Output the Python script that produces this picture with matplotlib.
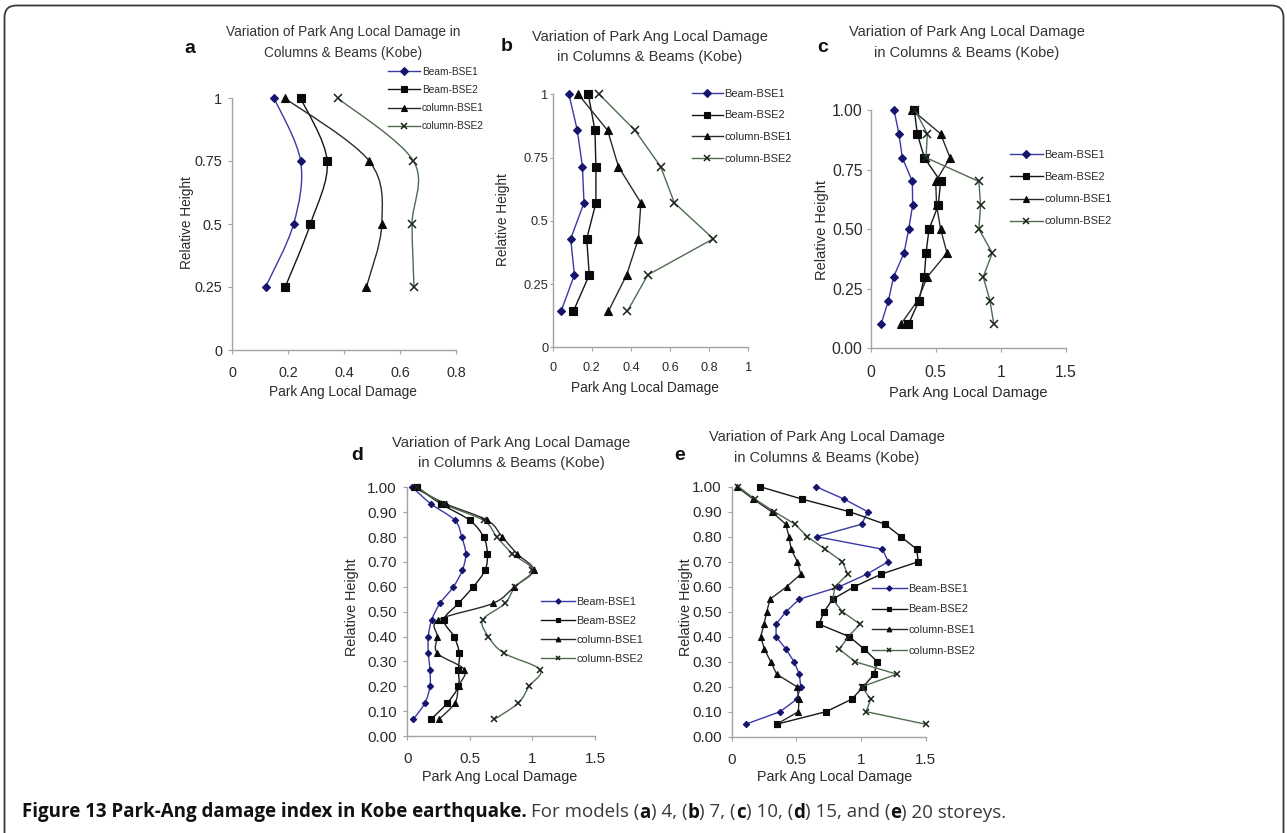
import numpy as np
import matplotlib
matplotlib.use("Agg")
import matplotlib.pyplot as plt
from matplotlib.path import Path
from matplotlib.patches import PathPatch, FancyBboxPatch
from matplotlib.lines import Line2D
from matplotlib.transforms import IdentityTransform
from matplotlib.ticker import FixedLocator, FixedFormatter

plt.rcParams['font.family'] = ['Liberation Sans', 'DejaVu Sans']

# ---------------- data (top storey first) ----------------
series_names = ["Beam-BSE1", "Beam-BSE2", "column-BSE1", "column-BSE2"]

a_height = [1.00, 0.75, 0.50, 0.25]
a_beam1 = [0.15, 0.245, 0.22, 0.12]
a_beam2 = [0.245, 0.34, 0.28, 0.19]
a_col1 = [0.188, 0.49, 0.535, 0.48]
a_col2 = [0.377, 0.648, 0.643, 0.65]

b_height = [1.00, 0.857, 0.714, 0.571, 0.429, 0.286, 0.143]
b_beam1 = [0.083, 0.126, 0.152, 0.160, 0.092, 0.111, 0.043]
b_beam2 = [0.182, 0.216, 0.221, 0.221, 0.174, 0.187, 0.106]
b_col1 = [0.131, 0.281, 0.336, 0.451, 0.438, 0.378, 0.285]
b_col2 = [0.238, 0.421, 0.552, 0.622, 0.821, 0.486, 0.382]

c_height = [1.0, 0.9, 0.8, 0.7, 0.6, 0.5, 0.4, 0.3, 0.2, 0.1]
c_beam1 = [0.179, 0.217, 0.243, 0.320, 0.322, 0.292, 0.256, 0.176, 0.136, 0.079]
c_beam2 = [0.335, 0.358, 0.412, 0.537, 0.519, 0.448, 0.425, 0.412, 0.371, 0.289]
c_col1 = [0.320, 0.537, 0.609, 0.499, 0.506, 0.537, 0.586, 0.435, 0.360, 0.230]
c_col2 = [0.340, 0.435, 0.425, 0.831, 0.844, 0.831, 0.934, 0.864, 0.916, 0.946]

d_height = [1.00, 0.933, 0.867, 0.800, 0.733, 0.667, 0.600, 0.533,
            0.467, 0.400, 0.333, 0.267, 0.200, 0.133, 0.067]
d_beam1 = [0.04, 0.19, 0.381, 0.435, 0.467, 0.44, 0.368, 0.261,
           0.195, 0.168, 0.168, 0.181, 0.181, 0.141, 0.048]
d_beam2 = [0.08, 0.27, 0.50, 0.61, 0.64, 0.622, 0.528, 0.408,
           0.293, 0.373, 0.416, 0.408, 0.408, 0.32, 0.189]
d_col1 = [0.053, 0.31, 0.64, 0.76, 0.876, 1.009, 0.856, 0.683,
          0.248, 0.24, 0.24, 0.456, 0.41, 0.381, 0.253]
d_col2 = [0.08, 0.29, 0.609, 0.716, 0.84, 1.0, 0.861, 0.781,
          0.603, 0.648, 0.773, 1.061, 0.973, 0.888, 0.696]

e_height = [1.00, 0.95, 0.90, 0.85, 0.80, 0.75, 0.70, 0.65, 0.60, 0.55,
            0.50, 0.45, 0.40, 0.35, 0.30, 0.25, 0.20, 0.15, 0.10, 0.05]
e_beam1 = [0.652, 0.871, 1.052, 1.005, 0.657, 1.165, 1.211, 1.044, 0.832, 0.523,
           0.42, 0.343, 0.343, 0.42, 0.482, 0.523, 0.534, 0.503, 0.374, 0.108]
e_beam2 = [0.219, 0.546, 0.91, 1.186, 1.309, 1.430, 1.443, 1.155, 0.948, 0.781,
           0.714, 0.675, 0.91, 1.026, 1.126, 1.101, 1.018, 0.928, 0.729, 0.348]
e_col1 = [0.039, 0.168, 0.309, 0.418, 0.443, 0.459, 0.508, 0.534, 0.425, 0.296,
          0.271, 0.25, 0.224, 0.253, 0.302, 0.348, 0.503, 0.521, 0.515, 0.348]
e_col2 = [0.052, 0.18, 0.33, 0.49, 0.585, 0.722, 0.856, 0.897, 0.799, 0.781,
          0.856, 0.992, 0.902, 0.832, 0.954, 1.276, 1.005, 1.075, 1.039, 1.5]

yticks_quarter = [0, 0.25, 0.5, 0.75, 1.0]
yticklabels_ab = ["0", "0.25", "0.5", "0.75", "1"]
yticklabels_c = ["0.00", "0.25", "0.50", "0.75", "1.00"]
yticks_tenth = [0, 0.1, 0.2, 0.3, 0.4, 0.5, 0.6, 0.7, 0.8, 0.9, 1.0]
yticklabels_de = ["0.00", "0.10", "0.20", "0.30", "0.40", "0.50",
                  "0.60", "0.70", "0.80", "0.90", "1.00"]
xticks_a = [0, 0.2, 0.4, 0.6, 0.8]
xticklabels_a = ["0", "0.2", "0.4", "0.6", "0.8"]
xticks_b = [0, 0.2, 0.4, 0.6, 0.8, 1.0]
xticklabels_b = ["0", "0.2", "0.4", "0.6", "0.8", "1"]
xticks_cde = [0, 0.5, 1.0, 1.5]
xticklabels_cde = ["0", "0.5", "1", "1.5"]

title_line1 = "Variation of Park Ang Local Damage"
title_line2 = "in Columns & Beams (Kobe)"
xlabel_text = "Park Ang Local Damage"
ylabel_text = "Relative Height"

# ---------------- styling ----------------
W, H = 1287, 833
fig = plt.figure(figsize=(W / 100, H / 100), dpi=100)

styles = [
    dict(color='#3a3aa6', marker='D', mfc='#15156e', mec='#15156e', msf=0.85),
    dict(color='#151515', marker='s', mfc='#0a0a0a', mec='#0a0a0a', msf=1.0),
    dict(color='#2a2a2a', marker='^', mfc='#0a0a0a', mec='#0a0a0a', msf=1.05),
    dict(color='#4f6b4f', marker='x', mfc='#1a221a', mec='#1a221a', msf=1.0),
]


def px_axes(l, r, b, t):
    return fig.add_axes([l / W, 1 - b / H, (r - l) / W, (b - t) / H])


def smooth_curve(ax, xs, ys, color, lw):
    pts = np.column_stack([xs, ys]).astype(float)
    n = len(pts)
    verts = [pts[0]]
    codes = [Path.MOVETO]
    for i in range(n - 1):
        p0 = pts[i - 1] if i > 0 else pts[i]
        p1 = pts[i]
        p2 = pts[i + 1]
        p3 = pts[i + 2] if i + 2 < n else pts[i + 1]
        verts += [p1 + (p2 - p0) / 6.0, p2 - (p3 - p1) / 6.0, p2]
        codes += [Path.CURVE4] * 3
    patch = PathPatch(Path(verts, codes), fill=False, edgecolor=color,
                      lw=lw, transform=ax.transData, clip_on=False)
    ax.add_patch(patch)


panels = [
    dict(letter='a', h=a_height, data=[a_beam1, a_beam2, a_col1, a_col2],
         box=(232, 456, 350, 98), xlim=(0, 0.8), xt=xticks_a, xtl=xticklabels_a,
         yt=yticks_quarter, ytl=yticklabels_ab, smooth=True, ms=5.2,
         tick_fs=10.4, lab_fs=9.8, title_fs=9.8,
         t1=title_line1 + " in", t2="Columns & Beams (Kobe)",
         tc=343, ty=(31.7, 53.0), letter_xy=(190, 53.3),
         yl=(187, 223), xl=(343, 392), ypad=4.3, xpad=8.5, ytl_len=2.9,
         leg=(388, 71.7, 7.3, 0.81, 3.2)),
    dict(letter='b', h=b_height, data=[b_beam1, b_beam2, b_col1, b_col2],
         box=(552.7, 748.3, 347.3, 94.3), xlim=(0, 1.0), xt=xticks_b, xtl=xticklabels_b,
         yt=yticks_quarter, ytl=yticklabels_ab, smooth=False, ms=5.2,
         tick_fs=9.2, lab_fs=9.8, title_fs=10.5,
         t1=title_line1, t2=title_line2,
         tc=650, ty=(36.7, 56.7), letter_xy=(507, 50.7),
         yl=(503, 220), xl=(645, 388), ypad=1.0, xpad=7.5, ytl_len=2.0,
         leg=(692, 94.3, 7.9, 1.06, 2.8)),
    dict(letter='c', h=c_height, data=[c_beam1, c_beam2, c_col1, c_col2],
         box=(870.7, 1066, 348.3, 110), xlim=(0, 1.5), xt=xticks_cde, xtl=xticklabels_cde,
         yt=yticks_quarter, ytl=yticklabels_c, smooth=False, ms=5.2,
         tick_fs=11.3, lab_fs=10.5, title_fs=10.5,
         t1=title_line1, t2=title_line2,
         tc=967, ty=(31.7, 53.3), letter_xy=(823, 52),
         yl=(822, 230), xl=(968, 393), ypad=2.9, xpad=9.0, ytl_len=2.9,
         leg=(1010, 155.7, 7.9, 1.1, 3.0)),
    dict(letter='d', h=d_height, data=[d_beam1, d_beam2, d_col1, d_col2],
         box=(407.3, 595, 736, 487.3), xlim=(0, 1.5), xt=xticks_cde, xtl=xticklabels_cde,
         yt=yticks_tenth, ytl=yticklabels_de, smooth=True, ms=3.8,
         tick_fs=11.0, lab_fs=10.4, title_fs=10.6,
         t1=title_line1, t2=title_line2,
         tc=511, ty=(443.3, 463.3), letter_xy=(357, 460),
         yl=(352, 607), xl=(500, 777), ypad=4.7, xpad=8.8, ytl_len=2.9,
         leg=(541, 602.7, 7.8, 0.82, 3.1)),
    dict(letter='e', h=e_height, data=[e_beam1, e_beam2, e_col1, e_col2],
         box=(731.7, 925.7, 736.7, 486.7), xlim=(0, 1.5), xt=xticks_cde, xtl=xticklabels_cde,
         yt=yticks_tenth, ytl=yticklabels_de, smooth=False, ms=3.8,
         tick_fs=11.0, lab_fs=10.4, title_fs=10.55,
         t1=title_line1, t2=title_line2,
         tc=827, ty=(436.7, 458.3), letter_xy=(680, 460),
         yl=(686, 607), xl=(835, 777), ypad=4.3, xpad=8.5, ytl_len=2.9,
         leg=(872, 589, 7.8, 1.0, 3.2)),
]

axis_gray = '#a3a3a3'
text_col = '#2a2a2a'

for p in panels:
    l, r, b, t = p['box']
    ax = px_axes(l, r, b, t)
    ax.set_facecolor('none')
    ax.set_xlim(*p['xlim'])
    ax.set_ylim(0, 1.0)
    for sp in ('top', 'right'):
        ax.spines[sp].set_visible(False)
    for sp in ('left', 'bottom'):
        ax.spines[sp].set_color(axis_gray)
        ax.spines[sp].set_linewidth(1.0)
    ax.xaxis.set_major_locator(FixedLocator(p['xt']))
    ax.xaxis.set_major_formatter(FixedFormatter(p['xtl']))
    ax.yaxis.set_major_locator(FixedLocator(p['yt']))
    ax.yaxis.set_major_formatter(FixedFormatter(p['ytl']))
    ax.tick_params(axis='both', direction='out', color=axis_gray, width=0.8,
                   labelcolor=text_col, labelsize=p['tick_fs'])
    ax.tick_params(axis='y', length=p['ytl_len'], pad=p['ypad'])
    ax.tick_params(axis='x', length=2.9, pad=p['xpad'])

    handles = []
    for vals, st, name in zip(p['data'], styles, series_names):
        ms = p['ms'] * st['msf']
        mew = 1.1 if st['marker'] == 'x' else 0.8
        if p['smooth']:
            smooth_curve(ax, vals, p['h'], st['color'], 1.0)
            ax.plot(vals, p['h'], linestyle='none', marker=st['marker'], ms=ms,
                    mfc=st['mfc'], mec=st['mec'], mew=mew, clip_on=False, zorder=3)
        else:
            ax.plot(vals, p['h'], color=st['color'], lw=1.0, marker=st['marker'], ms=ms,
                    mfc=st['mfc'], mec=st['mec'], mew=mew, clip_on=False, zorder=3)
        handles.append(Line2D([], [], color=st['color'], lw=1.0, marker=st['marker'],
                              ms=ms * 0.85, mfc=st['mfc'], mec=st['mec'], mew=mew))

    lx, ly, lfs, lsp, hl = p['leg']
    fs_px = lfs * 100 / 72
    top = ly - 0.5 * fs_px
    ax.legend(handles, series_names, loc='upper left',
              bbox_to_anchor=(lx / W, 1 - top / H), bbox_transform=fig.transFigure,
              frameon=False, borderpad=0, borderaxespad=0, handlelength=hl,
              handletextpad=0.15, labelspacing=lsp, prop={'size': lfs},
              labelcolor=text_col, numpoints=1)

    # titles, labels, panel letters
    fig.text(p['tc'] / W, 1 - p['ty'][0] / H, p['t1'], ha='center', va='center',
             fontsize=p['title_fs'], color='#333333')
    fig.text(p['tc'] / W, 1 - p['ty'][1] / H, p['t2'], ha='center', va='center',
             fontsize=p['title_fs'], color='#333333')
    fig.text(p['xl'][0] / W, 1 - p['xl'][1] / H, xlabel_text, ha='center', va='center',
             fontsize=p['lab_fs'], color=text_col)
    fig.text(p['yl'][0] / W, 1 - p['yl'][1] / H, ylabel_text, ha='center', va='center',
             rotation=90, fontsize=p['lab_fs'], color=text_col)
    fig.text(p['letter_xy'][0] / W, 1 - p['letter_xy'][1] / H, p['letter'],
             ha='center', va='baseline', fontsize=14, fontweight='bold', color='#111111')

# ---------------- frame ----------------
frame = FancyBboxPatch((4.5, -40), 1279, 833 - 5.5 + 40,
                       boxstyle='round,pad=0,rounding_size=12',
                       transform=IdentityTransform(), fill=False,
                       edgecolor='#3a3a3a', lw=1.3)
fig.add_artist(frame)

# ---------------- caption ----------------
renderer = fig.canvas.get_renderer()
cap_font = ['Open Sans', 'DejaVu Sans']
pieces = [("Figure 13 Park-Ang damage index in Kobe earthquake.", 'bold'),
          ("For models (", 'normal'), ("a", 'bold'), (") 4, (", 'normal'),
          ("b", 'bold'), (") 7, (", 'normal'), ("c", 'bold'), (") 10, (", 'normal'),
          ("d", 'bold'), (") 15, and (", 'normal'), ("e", 'bold'),
          (") 20 storeys.", 'normal')]
probe = fig.text(0, 0, pieces[0][0], fontsize=12, fontweight='bold', family=cap_font)
bw = probe.get_window_extent(renderer).width
probe.remove()
cap_fs = 12 * (506.0 / bw)
sp1 = fig.text(0, 0, "A A", fontsize=cap_fs, family=cap_font)
sp2 = fig.text(0, 0, "AA", fontsize=cap_fs, family=cap_font)
space_w = sp1.get_window_extent(renderer).width - sp2.get_window_extent(renderer).width
sp1.remove(); sp2.remove()

x = 21.7
base_y = 1 - 817.5 / H
for i, (s, wt) in enumerate(pieces):
    if i == 1:
        x += space_w
    col = '#111111' if wt == 'bold' else '#3a3a3a'
    tt = fig.text(x / W, base_y, s, fontsize=cap_fs, fontweight=wt, family=cap_font,
                  color=col, ha='left', va='baseline')
    x += tt.get_window_extent(renderer).width

fig.savefig('out.png', dpi=100)
